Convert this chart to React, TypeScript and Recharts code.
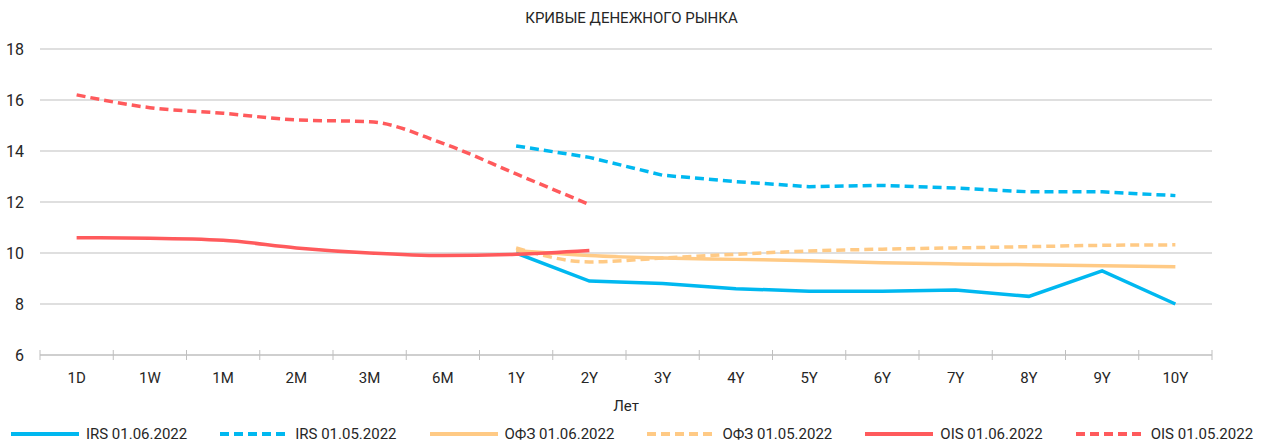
import React from 'react';
import {
  LineChart,
  Line,
  XAxis,
  YAxis,
  CartesianGrid,
  Legend,
} from 'recharts';

const tenors = ['1D', '1W', '1M', '2M', '3M', '6M', '1Y', '2Y', '3Y', '4Y', '5Y', '6Y', '7Y', '8Y', '9Y', '10Y'];

const irsJun = [null, null, null, null, null, null, 10.0, 8.9, 8.8, 8.6, 8.5, 8.5, 8.55, 8.3, 9.3, 8.0];
const irsMay = [null, null, null, null, null, null, 14.2, 13.75, 13.05, 12.8, 12.6, 12.65, 12.55, 12.4, 12.4, 12.25];
const ofzJun = [null, null, null, null, null, null, 10.1, 9.9, 9.8, 9.75, 9.7, 9.62, 9.57, 9.54, 9.5, 9.46];
const ofzMay = [null, null, null, null, null, null, 10.2, 9.65, 9.8, 9.95, 10.08, 10.15, 10.2, 10.25, 10.3, 10.32];
const oisJun = [10.6, 10.58, 10.5, 10.2, 10.0, 9.9, 9.95, 10.1, null, null, null, null, null, null, null, null];
const oisMay = [16.2, 15.7, 15.48, 15.22, 15.15, 14.3, 13.1, 11.9, null, null, null, null, null, null, null, null];

const yTicks = [6, 8, 10, 12, 14, 16, 18];

const BLUE = '#00B8F0';
const ORANGE = '#FFCA85';
const RED = '#FF5A5C';
const GRID = '#BFBFBF';
const TEXT = '#262626';
const FONT = '"Liberation Sans Narrow", "Roboto", "Liberation Sans", sans-serif';

const W = 1263;
const H = 446;
const LEFT = 40;
const RIGHT = 51;
const BAND = (W - LEFT - RIGHT) / tenors.length;
const DASH = '9 5';

const series = [
  { key: 'irsJun', name: 'IRS 01.06.2022', color: BLUE, dashed: false, curve: 'linear', values: irsJun },
  { key: 'irsMay', name: 'IRS 01.05.2022', color: BLUE, dashed: true, curve: 'linear', values: irsMay },
  { key: 'ofzJun', name: 'ОФЗ 01.06.2022', color: ORANGE, dashed: false, curve: 'monotone', values: ofzJun },
  { key: 'ofzMay', name: 'ОФЗ 01.05.2022', color: ORANGE, dashed: true, curve: 'monotone', values: ofzMay },
  { key: 'oisJun', name: 'OIS 01.06.2022', color: RED, dashed: false, curve: 'monotone', values: oisJun },
  { key: 'oisMay', name: 'OIS 01.05.2022', color: RED, dashed: true, curve: 'monotone', values: oisMay },
];

const data = tenors.map((t, i) => {
  const row: Record<string, any> = { tenor: t };
  series.forEach((s) => {
    row[s.key] = s.values[i];
  });
  return row;
});

function CategoryTick(props: any) {
  const { x, y, payload } = props;
  const half = BAND / 2;
  const isLast = payload.value === tenors[tenors.length - 1];
  return (
    <g>
      <line x1={x - half} x2={x - half} y1={y - 5} y2={y + 5} stroke={GRID} />
      {isLast && <line x1={x + half} x2={x + half} y1={y - 5} y2={y + 5} stroke={GRID} />}
      <text x={x} y={y + 23} dy="0.35em" textAnchor="middle" fill={TEXT} fontSize={15} fontFamily={FONT}>
        {payload.value}
      </text>
    </g>
  );
}

// legend keeps the series order (recharts would sort it otherwise)
function renderLegend() {
  return (
    <div
      style={{
        height: 24,
        display: 'flex',
        justifyContent: 'center',
        alignItems: 'center',
        gap: 32,
        fontFamily: FONT,
        fontSize: 15,
        color: TEXT,
        whiteSpace: 'nowrap',
      }}
    >
      {series.map((s) => (
        <div key={s.key} style={{ display: 'flex', alignItems: 'center', gap: 6, flexShrink: 0 }}>
          <svg width={70} height={8}>
            <line
              x1={1}
              x2={69}
              y1={4}
              y2={4}
              stroke={s.color}
              strokeWidth={4}
              strokeDasharray={s.dashed ? DASH : undefined}
            />
          </svg>
          <span>{s.name}</span>
        </div>
      ))}
    </div>
  );
}

export default function App() {
  return (
    <div style={{ position: 'relative', width: W, height: H, background: '#fff' }}>
      <style>{'body{margin:0;overflow:hidden}'}</style>
      <div
        style={{
          position: 'absolute',
          top: 9,
          left: 0,
          width: W,
          textAlign: 'center',
          fontFamily: FONT,
          fontSize: 15,
          color: TEXT,
        }}
      >
        КРИВЫЕ ДЕНЕЖНОГО РЫНКА
      </div>
      <LineChart width={W} height={H} data={data} margin={{ top: 49, right: RIGHT, left: 0, bottom: 0 }}>
        <CartesianGrid horizontal vertical={false} stroke={GRID} />
        <XAxis
          dataKey="tenor"
          height={67}
          padding={{ left: BAND / 2, right: BAND / 2 }}
          tickLine={false}
          tickSize={0}
          tickMargin={0}
          stroke={GRID}
          interval={0}
          tick={<CategoryTick />}
          label={{ value: 'Лет', position: 'insideBottom', offset: 11, fill: TEXT, fontSize: 15, fontFamily: FONT }}
        />
        <YAxis
          width={LEFT}
          domain={[6, 18]}
          ticks={yTicks}
          axisLine={false}
          tickLine={false}
          tickSize={0}
          tickMargin={16}
          tick={{ fill: TEXT, fontSize: 16, fontFamily: FONT }}
        />
        <Legend
          verticalAlign="bottom"
          content={renderLegend}
          wrapperStyle={{ left: 0, width: W }}
        />
        {series.map((s) => (
          <Line
            key={s.key}
            type={s.curve as any}
            dataKey={s.key}
            name={s.name}
            stroke={s.color}
            strokeWidth={3.5}
            strokeDasharray={s.dashed ? DASH : undefined}
            dot={false}
            activeDot={false}
            isAnimationActive={false}
          />
        ))}
      </LineChart>
    </div>
  );
}
